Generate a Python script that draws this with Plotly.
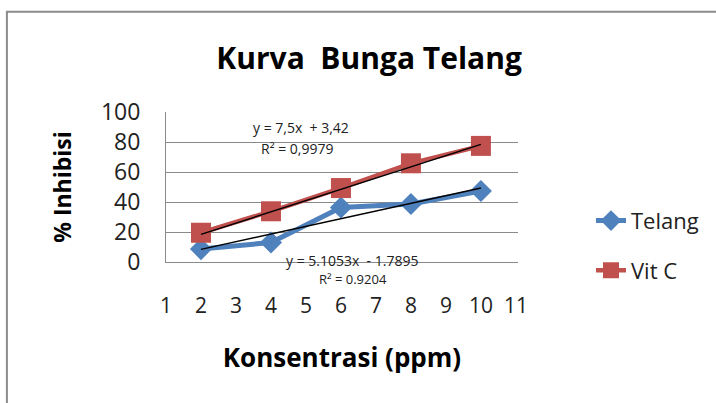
import plotly.graph_objects as go
import numpy as np

# ---- data ----
konsentrasi = [2, 4, 6, 8, 10]
telang = [8.6, 13.0, 36.3, 38.7, 47.3]
vitc = [19.5, 33.8, 49.3, 65.8, 77.4]
x_ticks = [1, 2, 3, 4, 5, 6, 7, 8, 9, 10, 11]
y_ticks = [0, 20, 40, 60, 80, 100]
# trendline coefficients (slope, intercept) as printed on the chart
vitc_fit = [7.5, 3.42]
telang_fit = [5.1053, -1.7895]
vitc_eq = ["y = 7,5x  + 3,42", "R² = 0,9979"]
telang_eq = ["y = 5.1053x  - 1.7895", "R² = 0.9204"]

BLUE = "#4F81BD"
RED = "#C0504D"
GRID = "#8A8A8A"
FONT = "Open Sans"

fig = go.Figure()

fig.add_trace(go.Scatter(
    x=konsentrasi, y=telang, name="Telang", mode="lines+markers",
    line=dict(color=BLUE, width=5),
    marker=dict(symbol="diamond", size=17, color=BLUE),
    legendgroup="a"))
fig.add_trace(go.Scatter(
    x=konsentrasi, y=vitc, name="Vit C", mode="lines+markers",
    line=dict(color=RED, width=4.5),
    marker=dict(symbol="square", size=20, color=RED),
    legendgroup="b"))

xfit = np.array([min(konsentrasi), max(konsentrasi)], dtype=float)
for m, b in (telang_fit, vitc_fit):
    fig.add_trace(go.Scatter(
        x=xfit, y=m * xfit + b, mode="lines", showlegend=False,
        line=dict(color="black", width=1.5), hoverinfo="skip"))

ann_font = dict(family=FONT, size=14, color="#222222")
annotations = [
    dict(x=4.85, y=0.895, text=vitc_eq[0], font=ann_font),
    dict(x=4.75, y=0.755, text=vitc_eq[1], font=ann_font),
    dict(x=6.31, y=0.01, text=telang_eq[0], font=ann_font),
    dict(x=6.34, y=-0.11, text=telang_eq[1],
         font=dict(family=FONT, size=13, color="#222222")),
]
for a in annotations:
    a.update(xref="x", yref="paper", showarrow=False,
             xanchor="center", yanchor="middle")

fig.update_layout(
    width=716, height=403,
    margin=dict(l=166, r=198, t=112, b=141, autoexpand=False),
    paper_bgcolor="white", plot_bgcolor="white",
    title=dict(text="<b>Kurva  Bunga Telang</b>", x=0.577, xref="paper",
               xanchor="center", y=1 - 58 / 403, yref="container",
               yanchor="middle",
               font=dict(family=FONT, size=30, color="black")),
    xaxis=dict(range=[1, 11.06], tickvals=x_ticks, showgrid=False,
               zeroline=False, showline=True, linecolor=GRID, linewidth=1,
               ticks="", ticklabelstandoff=25, automargin=False,
               tickfont=dict(family=FONT, size=21, color="#222222"),
               title=dict(text="<b>Konsentrasi (ppm)</b>", standoff=30,
                          font=dict(family=FONT, size=26, color="black"))),
    yaxis=dict(range=[0, 100], tickvals=y_ticks, showgrid=True,
               gridcolor=GRID, gridwidth=1, zeroline=False, showline=True,
               linecolor=GRID, linewidth=1, ticks="", ticklabelstandoff=20,
               automargin=False,
               tickfont=dict(family=FONT, size=23, color="#222222"),
               title=dict(text="<b>% Inhibisi</b>", standoff=22,
                          font=dict(family=FONT, size=23, color="black"))),
    legend=dict(x=(591 - 166) / 352, y=0.108, xanchor="left", yanchor="middle",
                font=dict(family=FONT, size=22, color="#222222"),
                tracegroupgap=18, bgcolor="rgba(0,0,0,0)"),
    annotations=annotations,
    shapes=[dict(type="rect", xref="paper", yref="paper",
                 x0=-0.452, x1=1.6, y0=-1.0, y1=1.669,
                 line=dict(color="#8C8C8C", width=2), layer="below")],
)

fig.write_html("out.html", config={"displayModeBar": False},
               post_script="document.body.style.margin='0px';")
